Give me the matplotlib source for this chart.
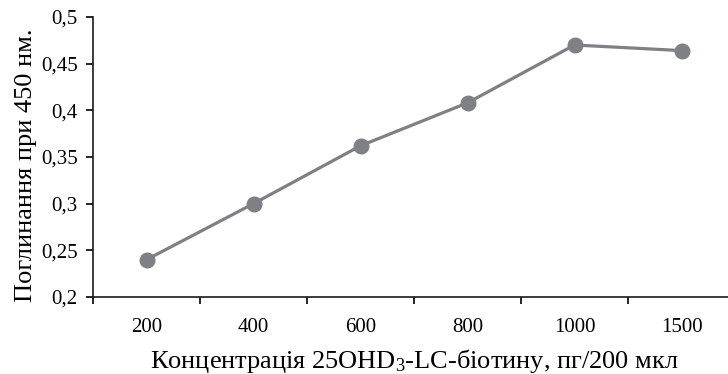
import matplotlib
matplotlib.use("Agg")
import matplotlib.pyplot as plt
from matplotlib.ticker import FuncFormatter, FixedLocator

categories = ["200", "400", "600", "800", "1000", "1500"]
values = [0.240, 0.300, 0.362, 0.408, 0.470, 0.464]
yticks = [0.2, 0.25, 0.3, 0.35, 0.4, 0.45, 0.5]

plt.rcParams['font.family'] = ['Liberation Serif', 'DejaVu Serif']
plt.rcParams['mathtext.fontset'] = 'custom'
plt.rcParams['mathtext.rm'] = 'Liberation Serif'
plt.rcParams['mathtext.it'] = 'Liberation Serif:italic'
plt.rcParams['mathtext.bf'] = 'Liberation Serif:bold'

fig = plt.figure(figsize=(7.28, 3.74), dpi=100)
ax = fig.add_axes([93/728, 1 - 297/374, 642/728, 280/374])

x = list(range(len(categories)))
ax.plot(x, values, color='#7f8083', linewidth=2.3, marker='o', markersize=10.5,
        markerfacecolor='#7f8083', markeredgecolor='#7f8083', solid_capstyle='round')

ax.set_xlim(-0.5, len(categories) - 0.5)
ax.set_ylim(0.2, 0.5)
ax.set_yticks(yticks)
ax.yaxis.set_major_formatter(FuncFormatter(lambda v, p: ('%g' % v).replace('.', ',')))
ax.set_xticks(x)
ax.set_xticklabels(categories)
ax.xaxis.set_minor_locator(FixedLocator([i - 0.5 for i in range(len(categories) + 1)]))
ax.tick_params(axis='x', which='major', length=0, labelsize=15, pad=15)
ax.tick_params(axis='x', which='minor', length=5, width=1.2, direction='out')
ax.tick_params(axis='y', length=5, width=1.2, direction='out', labelsize=15, pad=6)

for s in ['top', 'right']:
    ax.spines[s].set_visible(False)
for s in ['left', 'bottom']:
    ax.spines[s].set_linewidth(1.2)
    ax.spines[s].set_color('#1a1a1a')

ax.set_xlabel("Концентрація 25OHD$_\\mathrm{3}$-LC-біотину, пг/200 мкл", fontsize=19, labelpad=7)
ax.set_ylabel("Поглинання при 450 нм.", fontsize=19)
ax.yaxis.set_label_coords(-0.087, 0.471)

fig.savefig("out.png", dpi=100)
